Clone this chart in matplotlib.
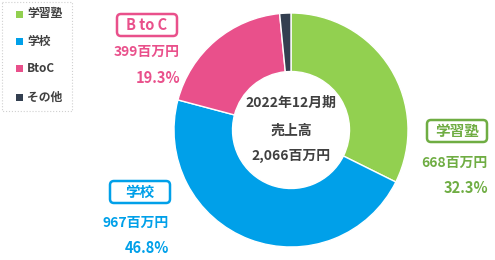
import matplotlib
matplotlib.use("Agg")
import matplotlib.pyplot as plt
from matplotlib.patches import FancyBboxPatch, Rectangle

plt.rcParams['font.family'] = ['Noto Sans CJK JP', 'DejaVu Sans']

# ----- data -----
segments = ["学習塾", "学校", "BtoC", "その他"]
values = [668, 967, 399, 32]          # 百万円
shares = ["32.3%", "46.8%", "19.3%", "1.5%"]
tags = ["学習塾", "学校", "B to C", None]
total_lines = ["2022年12月期", "売上高", "2,066百万円"]

colors = ["#92D050", "#00A0E9", "#E9508B", "#333F50"]
text_colors = ["#6FAD43", "#00A0E9", "#E9508B", "#333F50"]
dark = "#404040"

W, H = 495, 260
fig = plt.figure(figsize=(W / 100, H / 100), dpi=100)

# donut, centre ~ (291,130) px, outer radius ~117 px
cx, cy, r = 291, 130, 117
ax = fig.add_axes([(cx - r) / W, 1 - (cy + r) / H, 2 * r / W, 2 * r / H])
ax.pie(values, colors=colors, startangle=90, counterclock=False,
       radius=1.0, wedgeprops=dict(width=0.5, edgecolor="white", linewidth=1))
ax.set_aspect("equal")
ax.set_xlim(-1, 1)
ax.set_ylim(-1, 1)

# overlay in pixel coordinates
ov = fig.add_axes([0, 0, 1, 1])
ov.set_xlim(0, W)
ov.set_ylim(H, 0)
ov.axis("off")
ov.patch.set_alpha(0)

# centre text
for txt, y in zip(total_lines, [103, 131, 156]):
    ov.text(cx, y, txt, ha="center", va="center", fontsize=10,
            fontweight="bold", color=dark)

# segment labels: (box centre x, box centre y, value y, pct y, right edge)
label_pos = {
    0: (457, 131, 163, 188, 488),
    1: (140, 192, 223, 248, 169),
    2: (147, 25, 52, 78, 180),
}
for i, (bx, by, vy, py, rx) in label_pos.items():
    c = text_colors[i]
    ov.add_patch(FancyBboxPatch((bx - 30, by - 11), 60, 22,
                                boxstyle="round,pad=0,rounding_size=4",
                                fc="white", ec=c, lw=1.8))
    ov.text(bx, by, tags[i], ha="center", va="center", fontsize=10.5,
            fontweight="bold", color=c)
    ov.text(rx, vy, f"{values[i]}百万円", ha="right", va="center",
            fontsize=10, fontweight="bold", color=c)
    ov.text(rx, py, shares[i], ha="right", va="center", fontsize=10.5,
            fontweight="bold", color=c)

# legend box
ov.add_patch(Rectangle((2, 2), 70, 109, fc="white", ec="#D0D0D0",
                       lw=0.8, ls=":"))
for name, col, y in zip(segments, colors, [14, 41, 68, 97]):
    ov.add_patch(Rectangle((16, y - 3.5), 7, 7, fc=col, ec="none"))
    ov.text(27, y, name, ha="left", va="center", fontsize=8.5,
            fontweight="bold", color=dark)

fig.savefig("out.png", dpi=100)
